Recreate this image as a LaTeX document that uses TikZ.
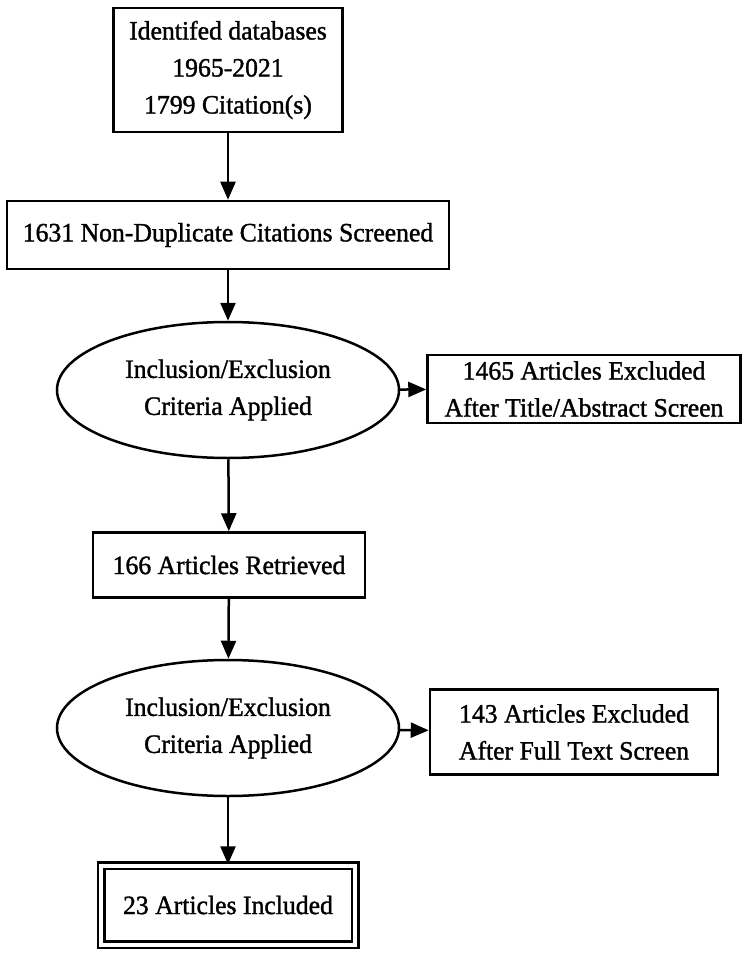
\documentclass[tikz,border=0pt]{standalone}
\usepackage{fontspec}
\setmainfont{Liberation Serif}[FakeStretch=0.97,FakeBold=1.3]
\usetikzlibrary{shapes.geometric,arrows.meta}
\begin{document}
\begin{tikzpicture}[x=1pt,y=-1pt,
  every node/.style={font=\fontsize{26.5}{37}\selectfont, align=center, inner sep=0pt, line width=2.5pt},
  boxnode/.style={draw, rectangle},
  ellnode/.style={draw, ellipse},
  dblbox/.style={draw, rectangle, double, double distance=4pt},
  arr/.style={line width=2.5pt, -{Triangle[length=18pt,width=15pt]}}]
\useasboundingbox (0,0) rectangle (750,957);
\node[boxnode, minimum width=229pt, minimum height=124pt] (top) at (228,70) {Identifed databases\\1965-2021\\1799 Citation(s)};
\node[boxnode, minimum width=442pt, minimum height=68pt] (nd) at (228,235) {1631 Non-Duplicate Citations Screened};
\node[ellnode, minimum width=342pt, minimum height=136pt] (e1) at (228,390) {Inclusion/Exclusion\\Criteria Applied};
\node[boxnode, minimum width=313pt, minimum height=68pt] (x1) at (584,389) {1465 Articles Excluded\\After Title/Abstract Screen};
\node[boxnode, minimum width=272pt, minimum height=65pt] (ret) at (229,565) {166 Articles Retrieved};
\node[ellnode, minimum width=342pt, minimum height=136pt] (e2) at (228,728) {Inclusion/Exclusion\\Criteria Applied};
\node[boxnode, minimum width=288pt, minimum height=85pt] (x2) at (574,732) {143 Articles Excluded\\After Full Text Screen};
\node[dblbox, minimum width=254pt, minimum height=79pt] (fin) at (228,905) {23 Articles Included};
\draw[arr] (top) -- (nd);
\draw[arr] (nd) -- (e1);
\draw[arr] (e1) -- (x1);
\draw[arr] (e1) -- (ret);
\draw[arr] (ret) -- (e2);
\draw[arr] (e2) -- (x2);
\draw[arr] (e2) -- (fin);
\end{tikzpicture}
\end{document}
